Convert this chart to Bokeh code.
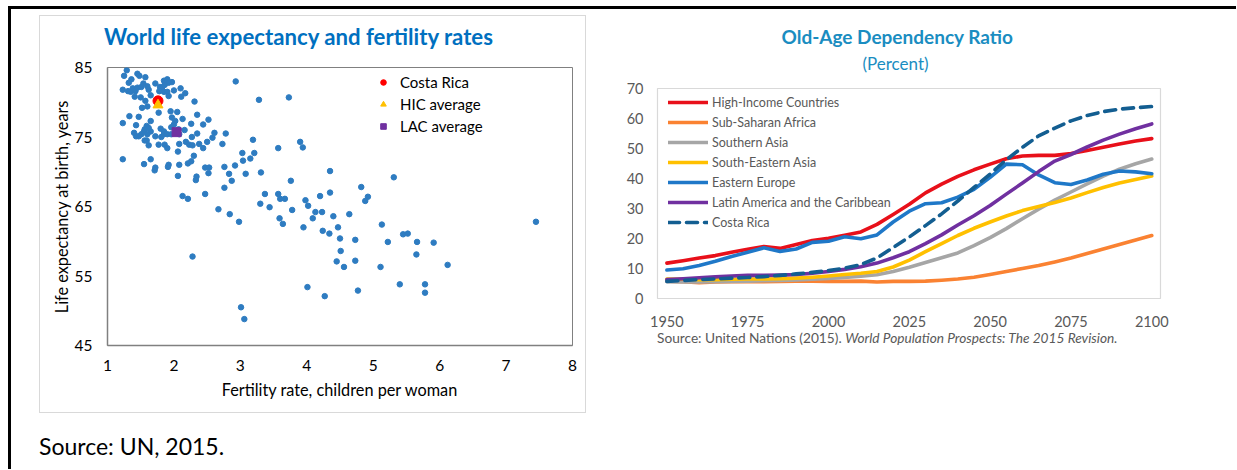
from bokeh.plotting import figure
from bokeh.models import Range1d, FixedTicker, Legend, LegendItem, Title, Div, Spacer
from bokeh.layouts import row, column
from bokeh.embed import file_html
from bokeh.resources import INLINE

# ---------------- Left chart data ----------------
fert = [1.29, 1.25, 1.45, 1.48, 1.57, 1.36, 1.32, 1.38, 1.23, 1.31, 1.35, 1.42, 1.45, 1.51, 1.54, 1.60,
        1.62, 1.41, 1.50, 1.57, 1.65, 1.72, 1.79, 1.82, 1.85, 1.87, 1.90, 1.92, 1.97, 1.86, 1.78, 1.85,
        1.90, 2.00, 2.10, 2.17, 2.11, 1.92, 2.31, 1.52, 1.60, 1.33, 1.47, 1.77, 1.95, 2.05, 2.13, 1.97,
        2.02, 2.00, 1.96, 2.07, 2.16, 2.26, 2.35, 2.44, 2.52, 1.23, 1.43, 1.65, 1.59, 1.62, 1.56, 1.55,
        1.65, 1.60, 1.51, 1.47, 1.43, 1.40, 1.72, 1.80, 1.85, 1.85, 1.90, 1.81, 1.96, 2.08, 2.08, 1.86,
        1.90, 1.77, 1.56, 1.62, 1.59, 2.18, 2.23, 2.28, 2.27, 2.35, 2.38, 2.44, 2.50, 2.58, 2.61, 2.73,
        2.06, 2.30, 2.26, 2.21, 2.08, 1.92, 1.91, 1.72, 1.71, 1.65, 1.55, 1.23, 2.47, 2.53,
        2.93, 3.28, 3.73, 2.78, 3.19, 3.57, 3.90, 3.94, 3.03, 3.21, 3.04, 3.15, 2.92, 2.76, 2.83, 3.08,
        3.31, 2.87, 3.76, 2.76, 4.35, 3.37, 3.57, 3.60, 3.67, 3.30, 3.98, 4.20, 4.35,
        2.06, 2.34, 2.33, 2.52, 2.13, 2.21, 2.47, 2.67, 2.84, 2.98, 3.44, 3.59, 3.64, 3.78, 3.95, 4.02,
        4.09, 4.13, 4.23, 4.24, 4.34, 4.40, 4.47, 4.50, 4.64, 4.73, 4.82, 4.92, 4.88, 5.13, 5.31, 5.45,
        5.52, 7.45, 5.22, 5.66, 5.91, 2.28, 4.51, 5.65, 4.45, 4.73, 4.56, 5.11, 6.12, 4.01, 4.27, 4.77,
        5.40, 5.78, 5.78, 3.01, 3.06]
life = [84.6, 83.8, 84.1, 83.8, 83.6, 83.3, 82.8, 82.0, 81.8, 81.6, 81.5, 81.6, 82.1, 82.2, 82.7, 82.3,
        81.8, 80.8, 80.7, 80.2, 81.0, 82.7, 82.2, 82.1, 83.1, 82.8, 83.3, 82.8, 82.9, 82.5, 81.6, 81.5,
        81.5, 81.7, 82.0, 81.3, 80.8, 80.9, 80.1, 79.2, 79.4, 78.0, 77.9, 78.5, 78.7, 78.6, 77.6, 77.8,
        77.3, 76.8, 76.4, 76.1, 76.0, 76.9, 78.2, 76.8, 77.5, 77.0, 76.7, 77.3, 76.6, 76.3, 76.1, 75.8,
        75.8, 75.4, 75.4, 75.1, 75.1, 75.6, 75.1, 76.2, 75.8, 75.4, 75.4, 75.0, 75.4, 75.4, 74.0, 73.9,
        73.4, 73.9, 74.5, 73.8, 74.5, 74.3, 73.9, 73.8, 75.0, 75.5, 74.0, 73.4, 74.3, 74.9, 75.6, 74.0,
        72.9, 72.3, 71.5, 71.2, 71.0, 71.0, 70.7, 70.6, 70.2, 71.8, 71.1, 71.8, 70.6, 70.6,
        83.0, 80.35, 80.7, 75.5, 74.6, 73.4, 74.3, 73.5, 72.7, 72.7, 71.6, 71.9, 70.9, 70.7, 69.7, 69.7,
        69.9, 68.7, 68.7, 67.7, 70.1, 66.8, 66.8, 66.1, 66.1, 65.4, 65.9, 66.5, 67.0,
        69.4, 69.3, 68.8, 69.8, 66.5, 66.1, 66.8, 64.6, 63.9, 62.8, 64.9, 63.3, 62.5, 64.5, 62.0, 65.1,
        63.3, 64.2, 64.2, 61.5, 61.1, 63.6, 62.0, 60.4, 63.9, 60.2, 67.8, 66.4, 65.8, 62.4, 69.2, 61.0,
        61.1, 62.8, 59.9, 59.9, 59.8, 57.8, 58.6, 58.1, 57.1, 57.2, 56.3, 56.3, 56.6, 53.4, 52.1, 52.9,
        53.8, 53.8, 52.6, 50.5, 48.8]

cr_fert, cr_life = [1.76], [80.2]
hic_fert, hic_life = [1.76], [79.6]
lac_fert, lac_life = [2.04], [75.7]

x_ticks_left = [1, 2, 3, 4, 5, 6, 7, 8]
y_ticks_left = [45, 55, 65, 75, 85]

# ---------------- Right chart data ----------------
years = list(range(1950, 2101, 5))
high_income = [11.8, 12.6, 13.5, 14.3, 15.4, 16.4, 17.3, 16.7, 18.0, 19.3, 20.1, 21.1, 22.2, 24.7, 28.0, 31.4,
               35.2, 38.1, 40.7, 42.9, 44.8, 46.6, 47.5, 47.7, 47.7, 48.3, 49.3, 50.4, 51.5, 52.5, 53.3]
sub_saharan = [5.8, 5.6, 5.3, 5.5, 5.6, 5.6, 5.6, 5.7, 5.8, 5.8, 5.7, 5.7, 5.8, 5.5, 5.7, 5.7,
               5.8, 6.1, 6.5, 7.1, 8.0, 9.0, 10.0, 11.0, 12.2, 13.5, 15.0, 16.5, 18.0, 19.5, 21.0]
southern_asia = [5.6, 5.5, 5.5, 5.6, 5.7, 5.8, 5.9, 6.0, 6.2, 6.4, 6.7, 7.0, 7.4, 7.9, 9.0, 10.4,
                 12.0, 13.6, 15.2, 17.6, 20.3, 23.3, 26.6, 29.8, 32.8, 35.5, 38.2, 40.8, 43.1, 44.9, 46.5]
se_asia = [6.5, 6.4, 6.3, 6.3, 6.4, 6.5, 6.5, 6.6, 6.8, 7.1, 7.5, 8.0, 8.4, 9.0, 10.5, 12.8,
           15.6, 18.3, 21.0, 23.4, 25.5, 27.5, 29.3, 30.7, 32.0, 33.5, 35.3, 37.0, 38.5, 39.7, 40.8]
eastern_europe = [9.5, 9.9, 11.0, 12.4, 14.0, 15.4, 16.9, 15.7, 16.5, 18.7, 19.1, 20.6, 19.9, 21.2, 25.5, 29.1,
                  31.6, 31.9, 33.8, 36.4, 40.4, 44.8, 44.6, 41.2, 38.6, 38.0, 39.5, 41.4, 42.5, 42.2, 41.6]
latam = [6.3, 6.6, 6.9, 7.2, 7.5, 7.7, 7.7, 7.8, 8.0, 8.4, 9.0, 9.7, 10.6, 11.8, 13.6, 15.6,
         18.3, 21.2, 24.5, 27.6, 31.0, 34.8, 38.5, 42.3, 45.8, 48.0, 50.5, 52.8, 54.8, 56.6, 58.2]
costa_rica = [5.7, 6.0, 6.3, 6.5, 6.8, 7.0, 7.3, 7.7, 8.2, 8.7, 9.3, 10.1, 11.3, 13.5, 17.0, 20.5,
              24.3, 28.2, 32.5, 37.0, 41.5, 46.2, 50.4, 54.2, 56.8, 59.2, 61.0, 62.3, 63.1, 63.6, 64.0]

series_names = ["High-Income Countries", "Sub-Saharan Africa", "Southern Asia", "South-Eastern Asia",
                "Eastern Europe", "Latin America and the Caribbean", "Costa Rica"]
x_ticks_right = [1950, 1975, 2000, 2025, 2050, 2075, 2100]
y_ticks_right = [0, 10, 20, 30, 40, 50, 60, 70]

FONT = "Lato"

# ================= Left figure =================
p1 = figure(frame_width=465, frame_height=278, x_range=Range1d(1, 8), y_range=Range1d(45, 85),
            output_backend="svg", toolbar_location=None,
            min_border_left=67, min_border_right=13, min_border_top=9, min_border_bottom=67)
p1.title.text = ""
p1.title.visible = False
p1.grid.visible = False
p1.outline_line_color = "#808080"
p1.outline_line_width = 1

p1.xaxis.ticker = FixedTicker(ticks=x_ticks_left)
p1.yaxis.ticker = FixedTicker(ticks=y_ticks_left)
p1.xaxis.axis_label = "Fertility rate, children per woman"
p1.yaxis.axis_label = "Life expectancy at birth, years"
for ax in (p1.xaxis[0], p1.yaxis[0]):
    ax.major_tick_line_color = None
    ax.minor_tick_line_color = None
    ax.axis_line_color = "#808080"
    ax.axis_line_width = 1.5
    ax.major_label_text_font = FONT
    ax.major_label_text_font_size = "15.5px"
    ax.major_label_text_color = "#000000"
    ax.axis_label_text_font = FONT
    ax.axis_label_text_font_size = "16.3px"
    ax.axis_label_text_font_style = "normal"
    ax.axis_label_text_color = "#000000"
p1.xaxis.major_label_standoff = 8
p1.yaxis.major_label_standoff = 9
p1.xaxis.axis_label_standoff = 6
p1.yaxis.axis_label_standoff = 1

p1.scatter(fert, life, marker="circle", size=5.5, color="#2E7CC1")
r_cr = p1.scatter(cr_fert, cr_life, marker="circle", size=10, color="#FF0000")
r_hic = p1.scatter(hic_fert, hic_life, marker="triangle", size=10, color="#FFC000")
r_lac = p1.scatter(lac_fert, lac_life, marker="square", size=9, color="#7030A0")

leg1 = Legend(items=[LegendItem(label="Costa Rica", renderers=[r_cr]),
                     LegendItem(label="HIC average", renderers=[r_hic]),
                     LegendItem(label="LAC average", renderers=[r_lac])],
              location=(269, 208))
leg1.glyph_width = 14
leg1.glyph_height = 22
leg1.label_height = 22
leg1.spacing = 0
leg1.padding = 0
leg1.margin = 0
leg1.label_standoff = 10
leg1.border_line_color = None
leg1.background_fill_alpha = 0
leg1.label_text_font = FONT
leg1.label_text_font_size = "15px"
leg1.label_text_color = "#000000"
p1.add_layout(leg1)

title1 = Div(text="World life expectancy and fertility rates", width=480, height=42, margin=0,
             styles={"font-family": FONT, "font-size": "22.2px", "font-weight": "bold",
                     "line-height": "42px", "color": "#0070C0", "white-space": "nowrap"})
left_box = column(row(Spacer(width=64, height=1), title1, spacing=0), p1, spacing=0,
                  styles={"border": "1px solid #D9D9D9"})

src1 = Div(text="Source: UN, 2015.", width=400, height=22, margin=0,
           styles={"font-family": FONT, "font-size": "23px", "line-height": "22px", "color": "#000000"})

# ================= Right figure =================
tcol = "#1A8DC1"
p2 = figure(frame_width=503, frame_height=210, x_range=Range1d(1947.1, 2102.7), y_range=Range1d(0, 70),
            output_backend="svg", toolbar_location=None,
            min_border_left=57, min_border_right=30, min_border_top=78, min_border_bottom=30)
p2.title.text = "Old-Age Dependency Ratio"
p2.title.text_font = FONT
p2.title.text_font_size = "19px"
p2.title.text_font_style = "bold"
p2.title.text_color = tcol
p2.title.align = "left"
p2.title.offset = 124
p2.title.standoff = -23
p2.add_layout(Title(text="(Percent)", align="left", offset=205, text_font=FONT, text_font_size="17px",
                    text_font_style="normal", text_color=tcol, standoff=29), "above")
p2.grid.visible = False
p2.outline_line_color = "#D9D9D9"
p2.outline_line_width = 1.2

p2.xaxis.ticker = FixedTicker(ticks=x_ticks_right)
p2.yaxis.ticker = FixedTicker(ticks=y_ticks_right)
for ax in (p2.xaxis[0], p2.yaxis[0]):
    ax.axis_line_color = None
    ax.major_tick_line_color = None
    ax.minor_tick_line_color = None
    ax.major_label_text_font = FONT
    ax.major_label_text_font_size = "14.5px"
    ax.major_label_text_color = "#595959"
p2.yaxis.major_label_standoff = 8
p2.xaxis.major_label_standoff = 11

series = [high_income, sub_saharan, southern_asia, se_asia, eastern_europe, latam, costa_rica]
colors = ["#E8101A", "#FA8232", "#A6A6A6", "#FFC000", "#1F78C8", "#7030A0", "#135E91"]
items = []
for name, vals, col in zip(series_names, series, colors):
    dash = "11 7" if name == "Costa Rica" else "solid"
    r = p2.line(years, vals, line_color=col, line_width=3.6, line_dash=dash, line_cap="round", line_join="round")
    items.append(LegendItem(label=name, renderers=[r]))

leg2 = Legend(items=items, location=(11, 66))
leg2.glyph_width = 40
leg2.glyph_height = 20
leg2.label_height = 20
leg2.spacing = 0
leg2.padding = 0
leg2.margin = 0
leg2.label_standoff = 4
leg2.border_line_color = None
leg2.background_fill_alpha = 0
leg2.label_text_font = FONT
leg2.label_text_font_size = "12.5px"
leg2.label_text_color = "#595959"
p2.add_layout(leg2)

src2 = Div(text="Source: United Nations (2015). <i>World Population Prospects: The 2015 Revision.</i>",
           width=560, height=16, margin=0,
           styles={"font-family": FONT, "font-size": "13.7px", "line-height": "16px", "color": "#595959"})

# ================= Frame lines & layout =================
hline = Div(text="", width=1228, height=3, margin=0, styles={"background-color": "#000000"})
vline = Div(text="", width=3, height=460, margin=0, styles={"background-color": "#000000"})

left_col = column(Spacer(width=1, height=6), left_box, Spacer(width=1, height=22), src1, spacing=0)
right_col = column(Spacer(width=1, height=1), p2, Spacer(width=1, height=1),
                   row(Spacer(width=57, height=1), src2, spacing=0), spacing=0)
content = row(vline, Spacer(width=28, height=1), left_col, Spacer(width=14, height=1), right_col, spacing=0)
root = column(Spacer(width=1, height=6),
              row(Spacer(width=8, height=1), column(hline, content, spacing=0), spacing=0),
              spacing=0)

open("out.html", "w").write(file_html(root, INLINE))
